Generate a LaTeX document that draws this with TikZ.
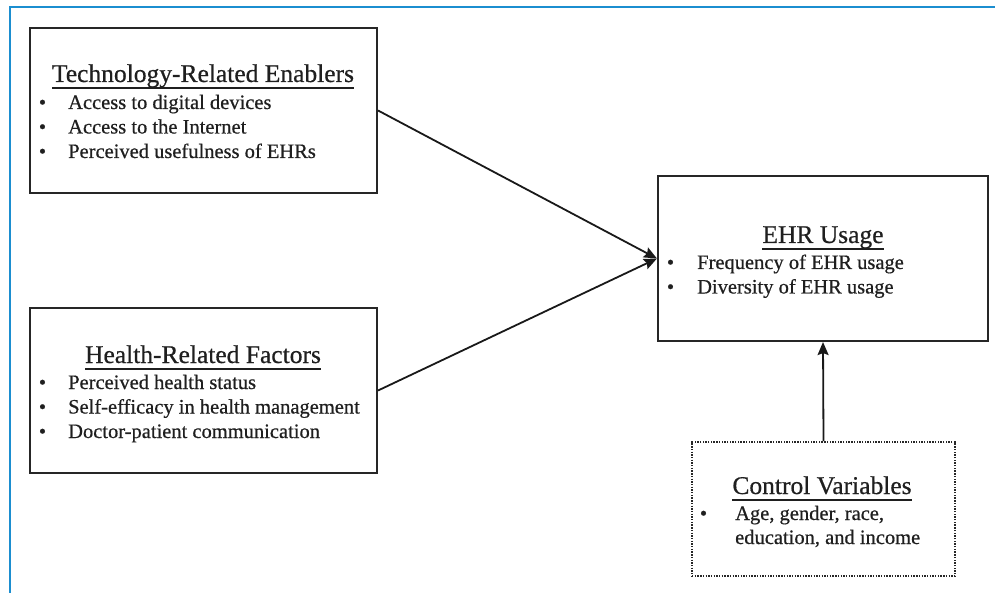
\documentclass[tikz,border=0pt]{standalone}
\usepackage{fontspec}
\setmainfont{Liberation Serif}[FakeBold=0.6]
\usetikzlibrary{arrows.meta}
\definecolor{frameblue}{RGB}{27,142,208}
\newcommand\myul[1]{\setbox0\hbox{#1}\rlap{\rule[-6.8pt]{\wd0}{1.5pt}}\box0}
\tikzset{
  box/.style={draw=black!85, line width=2.1pt, rectangle, inner sep=0pt},
  dotbox/.style={draw=black!85, line width=1.8pt, rectangle, inner sep=0pt, dash pattern=on 1.4pt off 1.3pt},
  ttl/.style={inner sep=0pt, anchor=base, text=black!88, font=\fontsize{25.5}{30}\selectfont},
  item/.style={inner sep=0pt, anchor=base west, text=black!88, font=\fontsize{20.5}{24.5}\selectfont, align=left},
  bul/.style={inner sep=0pt, anchor=base, text=black!88, font=\fontsize{20.5}{24.5}\selectfont},
  conn/.style={draw=black!90, line width=1.8pt, -{Stealth[length=13pt,width=11pt,inset=2pt]}}
}
\begin{document}
\begin{tikzpicture}[x=1pt,y=-1pt]
\useasboundingbox (0,0) rectangle (995,593);
\draw[frameblue, line width=2.6pt] (10,593) -- (10,7) -- (995,7);

% boxes
\node[box, minimum width=347pt, minimum height=165pt] (tech) at (203.5,110.5) {};
\node[box, minimum width=347pt, minimum height=165pt] (health) at (203.5,390.5) {};
\node[box, minimum width=330pt, minimum height=165pt] (ehr) at (823,258.5) {};
\node[dotbox, minimum width=263pt, minimum height=134pt] (ctrl) at (823.5,509) {};

% tech texts
\node[ttl] (techT) at (203,82) {\myul{Technology-Related Enablers}};
\node[bul] (tb1) at (42.5,109) {\textbullet};
\node[bul] (tb2) at (42.5,133.5) {\textbullet};
\node[bul] (tb3) at (42.5,158) {\textbullet};
\node[item] (ti1) at (68,109) {Access to digital devices};
\node[item] (ti2) at (68,133.5) {Access to the Internet};
\node[item] (ti3) at (68,158) {Perceived usefulness of EHRs};

% health texts
\node[ttl] (healthT) at (203,363) {\myul{Health-Related Factors}};
\node[bul] (hb1) at (42.5,389) {\textbullet};
\node[bul] (hb2) at (42.5,413.5) {\textbullet};
\node[bul] (hb3) at (42.5,438) {\textbullet};
\node[item] (hi1) at (68,389) {Perceived health status};
\node[item] (hi2) at (68,413.5) {Self-efficacy in health management};
\node[item] (hi3) at (68,438) {Doctor-patient communication};

% ehr texts
\node[ttl] (ehrT) at (823,243) {\myul{EHR Usage}};
\node[bul] (eb1) at (670.5,269) {\textbullet};
\node[bul] (eb2) at (670.5,293.5) {\textbullet};
\node[item] (ei1) at (697,269) {Frequency of EHR usage};
\node[item] (ei2) at (697,293.5) {Diversity of EHR usage};

% control texts
\node[ttl] (ctrlT) at (822,494) {\myul{Control Variables}};
\node[bul] (cb1) at (703.5,520) {\textbullet};
\node[item] (ci1) at (735,520) {Age, gender, race,};
\node[item] (ci2) at (735,544) {education, and income};

% connectors
\draw[conn] (tech.east) -- (ehr.west);
\draw[conn] (health.east) -- (ehr.west);
\draw[conn] (ctrl.north) -- (ehr.south);
\end{tikzpicture}
\end{document}
